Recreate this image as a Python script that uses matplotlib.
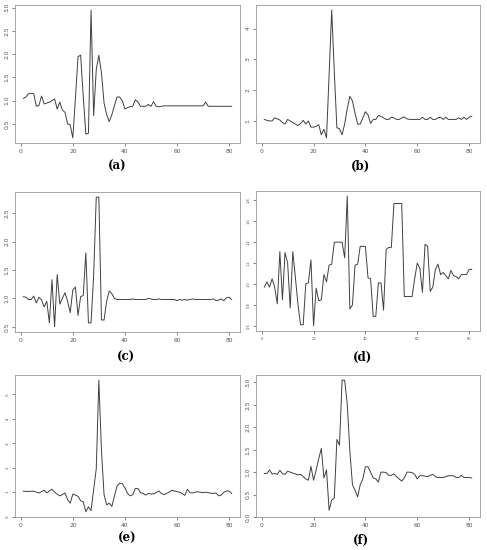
"""Six panels of R-style line traces, (a) to (f)"""
import matplotlib.pyplot as plt
import numpy as np

X = np.arange(1, 82)

SERIES_A = [1.05, 1.08, 1.15, 1.16, 1.15, 0.88, 0.9, 1.1, 0.93, 0.95,
            0.97, 1.0, 1.04, 0.82, 0.97, 0.8, 0.75, 0.5, 0.48, 0.2,
            1.05, 1.95, 1.98, 1.1, 0.28, 0.3, 2.95, 0.68, 1.67, 1.98,
            1.6, 0.95, 0.7, 0.55, 0.7, 0.9, 1.08, 1.08, 1.0, 0.82,
            0.85, 0.87, 0.88, 1.02, 0.97, 0.88, 0.88, 0.88, 0.92, 0.88,
            0.98, 0.88, 0.87, 0.88, 0.89, 0.89, 0.89, 0.89, 0.89, 0.89,
            0.89, 0.89, 0.89, 0.89, 0.89, 0.89, 0.89, 0.89, 0.89, 0.89,
            0.97, 0.88, 0.88, 0.88, 0.88, 0.88, 0.88, 0.88, 0.88, 0.88,
            0.88]

SERIES_B = [1.05, 1.02, 1.0, 1.0, 1.1, 1.07, 1.03, 0.95, 0.9, 1.05,
            1.0, 0.95, 0.9, 0.85, 0.92, 1.02, 0.9, 1.0, 0.8, 0.8,
            0.82, 0.88, 0.55, 0.73, 0.45, 2.5, 4.6, 2.6, 0.78, 0.75,
            0.55, 0.9, 1.4, 1.8, 1.65, 1.25, 0.9, 0.9, 1.1, 1.3,
            1.2, 0.92, 1.05, 1.05, 1.18, 1.15, 1.1, 1.05, 1.05, 1.12,
            1.1, 1.05, 1.05, 1.1, 1.13, 1.07, 1.05, 1.05, 1.05, 1.05,
            1.05, 1.12, 1.05, 1.05, 1.12, 1.05, 1.05, 1.1, 1.12, 1.05,
            1.12, 1.05, 1.05, 1.05, 1.05, 1.1, 1.05, 1.12, 1.05, 1.12,
            1.15]

SERIES_C = [1.03, 1.02, 0.98, 0.98, 1.04, 0.92, 1.02, 0.97, 0.85, 0.95,
            0.57, 1.33, 0.5, 1.42, 0.9, 1.0, 1.1, 0.95, 0.75, 1.15,
            1.2, 0.7, 1.03, 1.05, 1.8, 0.57, 0.57, 1.4, 2.78, 2.78,
            0.62, 0.62, 0.95, 1.13, 1.08, 1.0, 0.98, 0.98, 0.98, 0.98,
            0.98, 0.98, 0.99, 0.98, 0.98, 0.98, 0.98, 0.98, 1.0, 0.99,
            0.98, 0.98, 0.99, 0.98, 0.98, 0.98, 0.98, 0.98, 0.98, 0.96,
            0.98, 0.97, 0.98, 0.97, 0.98, 0.99, 0.98, 0.98, 0.98, 0.98,
            0.98, 0.98, 0.98, 0.99, 0.96, 0.97, 0.99, 0.96, 1.01, 1.02,
            0.98]

SERIES_D = [0.97, 1.02, 0.97, 1.05, 0.97, 0.81, 1.31, 0.85, 1.30, 1.20,
            0.77, 1.31, 1.06, 0.80, 0.61, 0.61, 1.00, 1.01, 1.23, 0.60,
            0.96, 0.84, 0.85, 1.09, 1.02, 1.18, 1.19, 1.40, 1.40, 1.40,
            1.40, 1.25, 1.84, 0.76, 0.80, 1.18, 1.19, 1.36, 1.36, 1.36,
            1.06, 1.05, 0.69, 0.69, 1.01, 1.01, 0.75, 1.33, 1.35, 1.35,
            1.77, 1.77, 1.77, 1.77, 0.88, 0.88, 0.88, 0.88, 1.05, 1.20,
            1.15, 0.92, 1.38, 1.36, 0.93, 0.97, 1.14, 1.19, 1.09, 1.11,
            1.08, 1.05, 1.13, 1.08, 1.07, 1.05, 1.09, 1.09, 1.09, 1.14,
            1.14]

SERIES_E = [1.04, 1.03, 1.03, 1.04, 1.04, 1.0, 0.97, 1.02, 1.08, 0.97,
            1.05, 1.12, 1.0, 0.92, 0.85, 0.9, 0.97, 0.7, 0.55, 0.92,
            0.88, 0.83, 0.65, 0.6, 0.2, 0.4, 0.25, 1.1, 1.95, 5.58,
            2.7, 0.9, 0.48, 0.55, 0.42, 0.85, 1.25, 1.37, 1.35, 1.18,
            0.95, 0.85, 0.9, 1.15, 1.15, 0.98, 0.95, 0.88, 0.95, 0.93,
            0.93, 0.98, 1.05, 0.95, 0.9, 0.95, 1.0, 1.08, 1.05, 1.02,
            1.0, 0.95, 0.87, 1.12, 0.98, 0.97, 1.0, 1.02, 1.0, 0.98,
            1.0, 0.98, 0.96, 0.95, 0.97, 0.85, 0.88, 1.0, 1.05, 1.05,
            0.95]

SERIES_F = [0.97, 0.97, 1.05, 0.96, 0.97, 0.95, 1.04, 0.97, 0.95, 1.02,
            1.0, 0.98, 0.96, 0.94, 0.95, 0.9, 0.85, 0.82, 1.13, 0.82,
            1.05, 1.3, 1.53, 0.87, 1.05, 0.15, 0.38, 0.42, 1.73, 1.6,
            3.05, 3.05, 2.52, 1.47, 0.72, 0.6, 0.45, 0.72, 0.85, 1.12,
            1.12, 1.0, 0.87, 0.85, 0.78, 1.0, 1.0, 0.99, 0.93, 0.93,
            0.96, 0.9, 0.85, 0.8, 0.87, 1.0, 1.0, 0.99, 0.95, 0.85,
            0.92, 0.92, 0.91, 0.9, 0.93, 0.95, 0.9, 0.88, 0.88, 0.88,
            0.9, 0.92, 0.92, 0.92, 0.88, 0.88, 0.93, 0.88, 0.88, 0.88,
            0.87]

LABELS = ['(a)', '(b)', '(c)', '(d)', '(e)', '(f)']
X_TICKS = [0, 20, 40, 60, 80]
Y_TICKS = [
    [0.5, 1.0, 1.5, 2.0, 2.5, 3.0],
    [1, 2, 3, 4],
    [0.5, 1.0, 1.5, 2.0, 2.5],
    [0.6, 0.8, 1.0, 1.2, 1.4, 1.6, 1.8],
    [0, 1, 2, 3, 4, 5],
    [0.0, 0.5, 1.0, 1.5, 2.0, 2.5, 3.0],
]
Y_FORMATS = ['{:.1f}', '{:.0f}', '{:.1f}', '{:.1f}', '{:.0f}', '{:.1f}']
# tick label sizes differ between panels (x, y)
LABEL_SIZES = [(4.3, 4.3), (4.3, 4.3), (4.3, 4.3), (2.6, 2.6), (4.3, 3.0), (4.3, 4.3)]

# axes boxes in pixels: left, top, right, bottom
BOXES = [(15, 5, 240, 143), (256, 5, 480, 143),
         (15, 192, 240, 332), (256, 191, 480, 331),
         (15, 375, 240, 517), (256, 375, 480, 517)]
LABEL_POS = [(117, 166), (361, 166), (126, 357), (362, 357),
             (127, 538), (361, 540)]

W, H = 487, 550
fig = plt.figure(figsize=(W / 100, H / 100), dpi=100)

all_series = [SERIES_A, SERIES_B, SERIES_C, SERIES_D, SERIES_E, SERIES_F]
for i, ys in enumerate(all_series):
    l, t, r, b = BOXES[i]
    ax = fig.add_axes([l / W, 1 - b / H, (r - l) / W, (b - t) / H])
    ax.plot(X, ys, color='#404040', lw=0.7)
    ax.margins(0.04)
    ax.set_xticks(X_TICKS)
    ax.set_yticks(Y_TICKS[i])
    ax.set_yticklabels([Y_FORMATS[i].format(v) for v in Y_TICKS[i]],
                       rotation=90, va='center')
    ax.tick_params(length=2.5, width=0.5, pad=1.5, colors='#555555')
    ax.tick_params(axis='x', labelsize=LABEL_SIZES[i][0])
    ax.tick_params(axis='y', labelsize=LABEL_SIZES[i][1])
    for sp in ax.spines.values():
        sp.set_linewidth(0.6)
        sp.set_color('#999999')
    lx, ly = LABEL_POS[i]
    fig.text(lx / W, 1 - ly / H, LABELS[i], ha='center', va='center',
             fontsize=8.5, fontweight='bold', family='DejaVu Serif')

fig.savefig('out.png', dpi=100)
